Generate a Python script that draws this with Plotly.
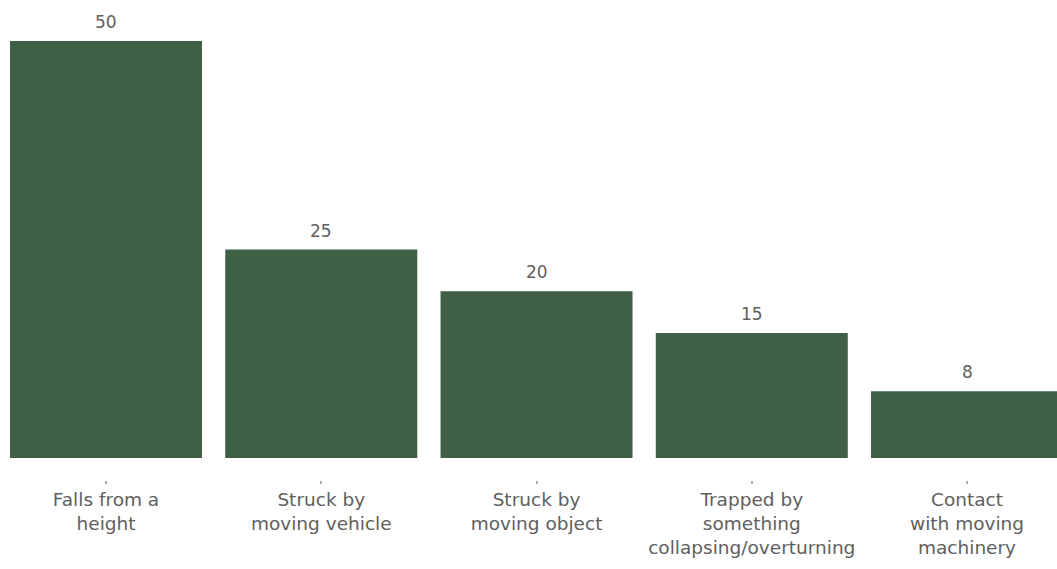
import plotly.graph_objects as go

categories = ["Falls from a<br>height", "Struck by<br>moving vehicle", "Struck by<br>moving object",
              "Trapped by<br>something<br>collapsing/overturning", "Contact<br>with moving<br>machinery"]
values = [50, 25, 20, 15, 8]

bar_color = "#3f6044"
text_color = "#606060"
font_family = "DejaVu Sans, Liberation Sans, Arial"

fig = go.Figure(go.Bar(
    x=list(range(len(categories))), y=values, width=0.892,
    marker=dict(color=bar_color, line=dict(width=0)),
    hoverinfo="skip",
))

for i, v in enumerate(values):
    fig.add_annotation(x=i, y=v, text=str(v), showarrow=False, yanchor="bottom", yshift=7,
                       font=dict(family=font_family, size=17, color=text_color))

fig.update_layout(
    width=1057, height=569,
    margin=dict(l=0, r=0, t=0, b=89),
    plot_bgcolor="white", paper_bgcolor="white",
    showlegend=False,
    xaxis=dict(
        tickmode="array", tickvals=list(range(len(categories))), ticktext=categories,
        range=[-0.4925, 4.418], showgrid=False, zeroline=False, showline=False,
        ticks="outside", ticklen=3, tickwidth=1.5, tickcolor="#aaaaaa",
        tickfont=dict(family=font_family, size=18.5, color=text_color),
        ticklabelstandoff=0,
    ),
    yaxis=dict(range=[-2.638, 54.92], showgrid=False, zeroline=False, showline=False,
               showticklabels=False, ticks=""),
)

fig.write_html("out.html", config={"displayModeBar": False},
               post_script="document.body.style.margin='0';document.body.style.overflow='hidden';")
